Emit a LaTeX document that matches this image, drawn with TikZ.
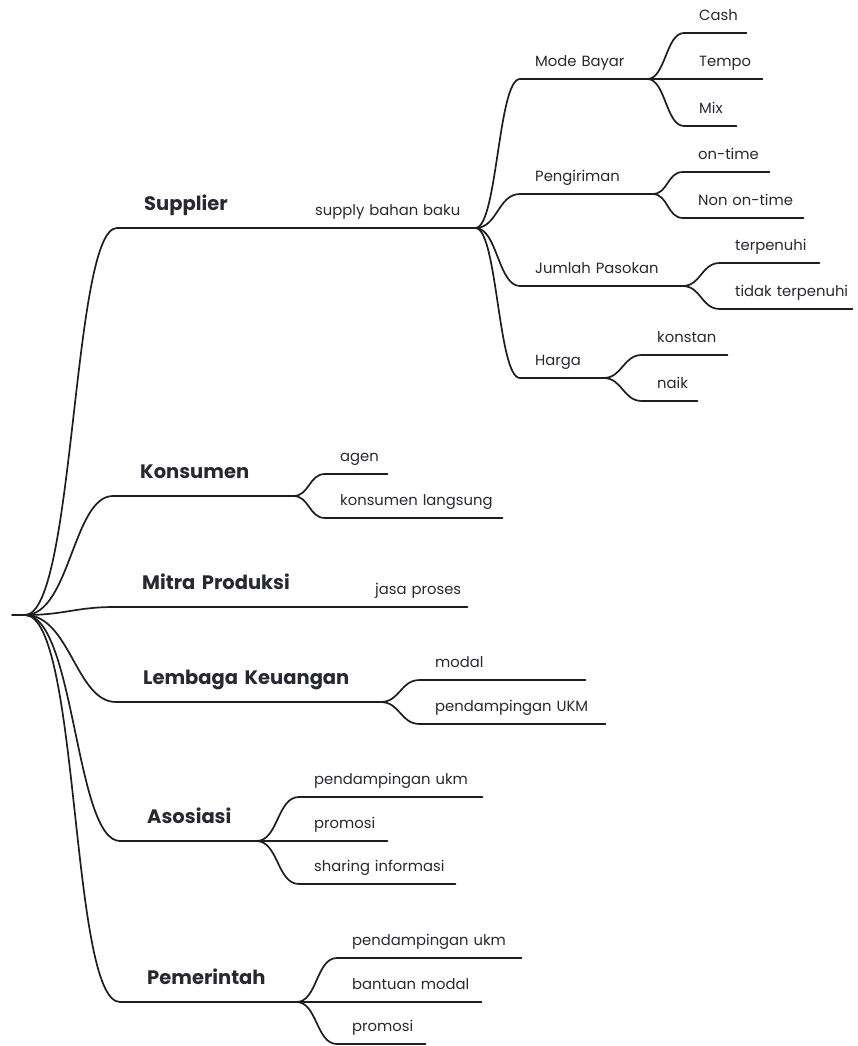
\documentclass[tikz,border=0pt]{standalone}
\usepackage{fontspec}
\setmainfont{Poppins}
\usepackage{tikz}
\definecolor{mmink}{RGB}{30,30,30}
\definecolor{mmtext}{RGB}{40,40,50}

\begin{document}
\begin{tikzpicture}[x=1pt, y=-1pt,
  link/.style={draw=mmink, line width=1.7pt, line cap=round},
  topic/.style={anchor=south west, inner xsep=0pt, inner ysep=17pt, text height=15pt, text depth=0pt,
                align=left, font=\fontsize{19.5}{23}\selectfont\bfseries, text=mmtext,
                execute at begin node={\hspace*{27pt}},
                append after command={(\tikzlastnode.south west) edge[link] (\tikzlastnode.south east)}},
  sub/.style={anchor=south west, inner xsep=0pt, inner ysep=12pt, text height=11pt, text depth=0pt,
              align=left, font=\fontsize{14.8}{17}\selectfont, text=mmtext,
              execute at begin node={\hspace*{15pt}},
              append after command={(\tikzlastnode.south west) edge[link] (\tikzlastnode.south east)}}]

\useasboundingbox (0,0) rectangle (857,1046);

\coordinate (root) at (12,615);
\coordinate (hub) at (25,615);

\node[topic, text width=183pt] (sup) at (117,228) {Supplier};
\node[sub, text width=175pt] (sbb) at (300,228) {supply bahan baku};
\node[sub, text width=127pt] (mb) at (520,79) {Mode Bayar};
\node[sub, text width=62pt] (cash) at (684,33) {Cash};
\node[sub, text width=78pt] (tempo) at (684,79) {Tempo};
\node[sub, text width=52pt] (mix) at (684,126) {Mix};
\node[sub, text width=132pt] (kirim) at (520,194) {Pengiriman};
\node[sub, text width=86pt] (ontime) at (683,172) {on-time};
\node[sub, text width=120pt] (nontime) at (683,218) {Non on-time};
\node[sub, text width=162pt] (pasok) at (520,286) {Jumlah Pasokan};
\node[sub, text width=99pt] (penuh) at (720,263) {terpenuhi};
\node[sub, text width=132pt] (tpenuh) at (720,309) {tidak terpenuhi};
\node[sub, text width=83pt] (harga) at (520,378) {Harga};
\node[sub, text width=85pt] (konstan) at (642,355) {konstan};
\node[sub, text width=55pt] (naik) at (642,401) {naik};

\node[topic, text width=180pt] (kons) at (113,496) {Konsumen};
\node[sub, text width=62pt] (agen) at (325,474) {agen};
\node[sub, text width=177pt] (langsung) at (325,518) {konsumen langsung};

\node[topic, text width=245pt] (mitra) at (115,607) {Mitra Produksi};
\node[sub, text width=107pt] (jasa) at (360,607) {jasa proses};

\node[topic, text width=264pt] (lemb) at (116,702) {Lembaga Keuangan};
\node[sub, text width=165pt] (modal) at (420,680) {modal};
\node[sub, text width=185pt] (pukm) at (420,724) {pendampingan UKM};

\node[topic, text width=136pt] (asos) at (120,841) {Asosiasi};
\node[sub, text width=183pt] (aukm) at (299,797) {pendampingan ukm};
\node[sub, text width=88pt] (apromo) at (299,841) {promosi};
\node[sub, text width=156pt] (share) at (299,884) {sharing informasi};

\node[topic, text width=176pt] (pem) at (120,1002) {Pemerintah};
\node[sub, text width=184pt] (pukm2) at (337,958) {pendampingan ukm};
\node[sub, text width=144pt] (bantu) at (337,1002) {bantuan modal};
\node[sub, text width=88pt] (ppromo) at (337,1044) {promosi};

\draw[link] (root) -- (hub);
\draw[link] (hub) .. controls +(50,0) and +(-45,0) .. (sup.south west);
\draw[link] (hub) .. controls +(45,0) and +(-40,0) .. (kons.south west);
\draw[link] (hub) .. controls +(40,0) and +(-40,0) .. (mitra.south west);
\draw[link] (hub) .. controls +(45,0) and +(-40,0) .. (lemb.south west);
\draw[link] (hub) .. controls +(50,0) and +(-45,0) .. (asos.south west);
\draw[link] (hub) .. controls +(55,0) and +(-50,0) .. (pem.south west);

\draw[link] (sup.south east) -- (sbb.south west);
\draw[link] (sbb.south east) .. controls +(22,0) and +(-22,0) .. (mb.south west);
\draw[link] (sbb.south east) .. controls +(22,0) and +(-22,0) .. (kirim.south west);
\draw[link] (sbb.south east) .. controls +(22,0) and +(-22,0) .. (pasok.south west);
\draw[link] (sbb.south east) .. controls +(22,0) and +(-22,0) .. (harga.south west);
\draw[link] (mb.south east) .. controls +(18,0) and +(-18,0) .. (cash.south west);
\draw[link] (mb.south east) -- (tempo.south west);
\draw[link] (mb.south east) .. controls +(18,0) and +(-18,0) .. (mix.south west);
\draw[link] (kirim.south east) .. controls +(16,0) and +(-16,0) .. (ontime.south west);
\draw[link] (kirim.south east) .. controls +(16,0) and +(-16,0) .. (nontime.south west);
\draw[link] (pasok.south east) .. controls +(19,0) and +(-19,0) .. (penuh.south west);
\draw[link] (pasok.south east) .. controls +(19,0) and +(-19,0) .. (tpenuh.south west);
\draw[link] (harga.south east) .. controls +(19,0) and +(-19,0) .. (konstan.south west);
\draw[link] (harga.south east) .. controls +(19,0) and +(-19,0) .. (naik.south west);

\draw[link] (kons.south east) .. controls +(16,0) and +(-16,0) .. (agen.south west);
\draw[link] (kons.south east) .. controls +(16,0) and +(-16,0) .. (langsung.south west);
\draw[link] (mitra.south east) -- (jasa.south west);
\draw[link] (lemb.south east) .. controls +(20,0) and +(-20,0) .. (modal.south west);
\draw[link] (lemb.south east) .. controls +(20,0) and +(-20,0) .. (pukm.south west);
\draw[link] (asos.south east) .. controls +(22,0) and +(-22,0) .. (aukm.south west);
\draw[link] (asos.south east) -- (apromo.south west);
\draw[link] (asos.south east) .. controls +(22,0) and +(-22,0) .. (share.south west);
\draw[link] (pem.south east) .. controls +(21,0) and +(-21,0) .. (pukm2.south west);
\draw[link] (pem.south east) -- (bantu.south west);
\draw[link] (pem.south east) .. controls +(21,0) and +(-21,0) .. (ppromo.south west);
\end{tikzpicture}
\end{document}
